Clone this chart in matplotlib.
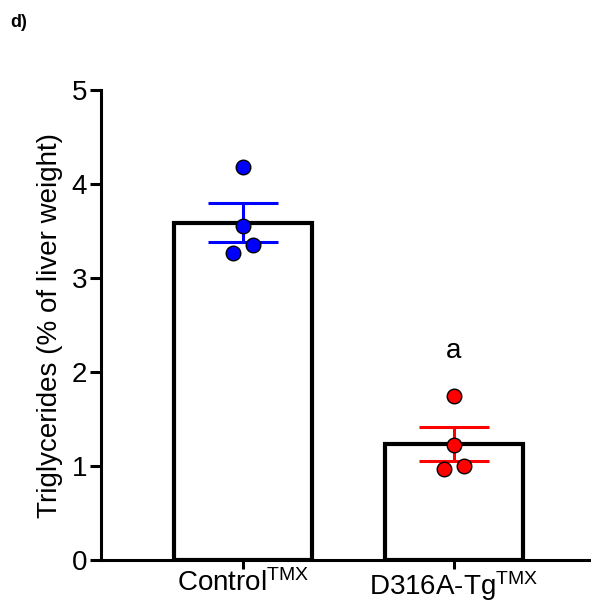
import matplotlib
matplotlib.use("Agg")
import matplotlib.pyplot as plt
import numpy as np

plt.rcParams['font.family'] = ['Liberation Sans', 'DejaVu Sans']
plt.rcParams['mathtext.fontset'] = 'custom'
plt.rcParams['mathtext.rm'] = 'Liberation Sans'
plt.rcParams['mathtext.it'] = 'Liberation Sans:italic'
plt.rcParams['mathtext.bf'] = 'Liberation Sans:bold'

# data
groups = ['Control$^{\\mathrm{TMX}}$', 'D316A-Tg$^{\\mathrm{TMX}}$']
means = [3.59, 1.23]
sems = [0.21, 0.18]
control_pts = [4.18, 3.55, 3.35, 3.27]
d316a_pts = [1.75, 1.22, 1.00, 0.97]
control_jitter = [0.0, 0.0, 0.047, -0.047]
d316a_jitter = [0.0, 0.0, 0.047, -0.047]
colors = ['#0000ff', '#ff0000']
sig_labels = ['', 'a']

fig = plt.figure(figsize=(5.91, 6.03), dpi=100)
ax = fig.add_axes([0.171, 0.0713, 0.829, 0.7794])

x = np.arange(len(groups))
ax.bar(x, means, width=0.65, color='white', edgecolor='black', linewidth=3.0, zorder=1)

for i in range(len(groups)):
    ax.errorbar(x[i], means[i], yerr=sems[i], color=colors[i], elinewidth=2.2,
                capsize=25, capthick=2.2, zorder=2)

pts = [control_pts, d316a_pts]
jit = [control_jitter, d316a_jitter]
for i in range(len(groups)):
    ax.scatter(x[i] + np.array(jit[i]), pts[i], s=110, color=colors[i],
               edgecolor='black', linewidth=1.0, zorder=3)
    if sig_labels[i]:
        ax.text(x[i], 2.08, sig_labels[i], ha='center', va='bottom', fontsize=20)

ax.set_xlim(-0.673, 1.649)
ax.set_ylim(0, 5)
ax.set_yticks([0, 1, 2, 3, 4, 5])
ax.set_xticks(x)
ax.set_xticklabels(groups, fontsize=20)
ax.tick_params(axis='y', labelsize=20, width=2.2, length=8, pad=2)
ax.tick_params(axis='x', width=2.2, length=6.5, pad=0)
ax.set_ylabel('Triglycerides (% of liver weight)', fontsize=20, labelpad=6)

ax.spines['top'].set_visible(False)
ax.spines['right'].set_visible(False)
ax.spines['left'].set_linewidth(2.2)
ax.spines['bottom'].set_linewidth(2.2)

fig.text(0.018, 0.962, 'd)', fontsize=13, fontweight='bold', ha='left', va='center')

fig.savefig('out.png', dpi=100)
